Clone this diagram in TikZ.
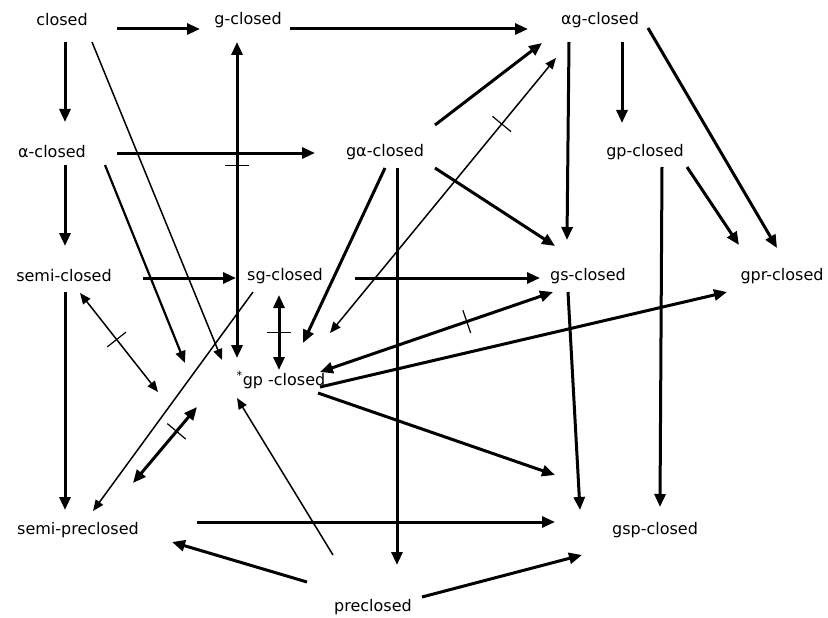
\documentclass[tikz,border=0pt]{standalone}
\usepackage{fontspec}
\setmainfont{DejaVu Sans}
\usetikzlibrary{arrows.meta}
\usetikzlibrary{calc}
\usetikzlibrary{decorations.markings}

\begin{document}
\begin{tikzpicture}[x=1pt,y=-1pt,
	every node/.style={font=\fontsize{16}{18}\selectfont,inner sep=0pt},
	arr/.style={-{Triangle[length=13pt,width=11pt]},line width=3pt},
	darr/.style={{Triangle[length=13pt,width=11pt]}-{Triangle[length=13pt,width=11pt]},line width=3pt},
	midarr/.style={-{Triangle[length=12pt,width=10pt]},line width=2.2pt},
	thinarr/.style={-{Triangle[length=11pt,width=9pt]},line width=1.5pt},
	thindarr/.style={{Triangle[length=11pt,width=9pt]}-{Triangle[length=11pt,width=9pt]},line width=1.5pt},
	indep/.style={postaction={decorate},decoration={markings,
		mark=at position #1 with {\draw[-,line width=1.2pt] (0,-12pt) -- (0,12pt);}}}]
	
	\useasboundingbox (0,0) rectangle (828,618);
	
	\node (closed) at (62,20) {closed};
	\node (gclosed) at (248,20) {g-closed};
	\node (agclosed) at (600,20) {αg-closed};
	\node (aclosed) at (52,152) {α-closed};
	\node (gaclosed) at (385,152) {gα-closed};
	\node (gpclosed) at (645,152) {gp-closed};
	\node (semiclosed) at (64,276) {semi-closed};
	\node (sgclosed) at (285,276) {sg-closed};
	\node (gsclosed) at (588,276) {gs-closed};
	\node (gprclosed) at (782,276) {gpr-closed};
	\node (stargp) at (281,380) {\textsuperscript{*}gp -closed};
	\node (semipre) at (78,530) {semi-preclosed};
	\node (gspclosed) at (655,530) {gsp-closed};
	\node (preclosed) at (373,607) {preclosed};
	
	% top row
	\draw[arr] ($(closed.center)+(55,9)$) -- ($(gclosed.center)+(-48,9)$);
	\draw[arr] ($(gclosed.center)+(42,9)$) -- ($(agclosed.center)+(-72,9)$);
	\draw[arr] ($(closed.center)+(3,22)$) -- ($(aclosed.center)+(13,-30)$);
	\draw[thinarr] ($(closed.center)+(30,22)$) -- ($(stargp.center)+(-59,-20)$);
	\draw[darr,indep=0.39] ($(gclosed.center)+(-11,22)$) -- ($(stargp.center)+(-44,-22)$);
	\draw[arr] ($(agclosed.center)+(22,22)$) -- ($(gpclosed.center)+(-23,-29)$);
	\draw[arr] ($(agclosed.center)+(-31,22)$) -- ($(gsclosed.center)+(-21,-36)$);
	\draw[arr] ($(agclosed.center)+(48,8)$) -- ($(gprclosed.center)+(-5,-28)$);
	
	% second row
	\draw[arr] ($(aclosed.center)+(65,1)$) -- ($(gaclosed.center)+(-70,1)$);
	\draw[arr] ($(aclosed.center)+(13,13)$) -- ($(semiclosed.center)+(1,-30)$);
	\draw[midarr] ($(aclosed.center)+(53,13)$) -- ($(stargp.center)+(-96,-17)$);
	\draw[arr] ($(gaclosed.center)+(50,-27)$) -- ($(agclosed.center)+(-58,23)$);
	\draw[thindarr,indep=0.76] ($(stargp.center)+(49,-47)$) -- ($(agclosed.center)+(-44,38)$);
	\draw[arr] ($(gaclosed.center)+(50,16)$) -- ($(gsclosed.center)+(-33,-30)$);
	\draw[arr] ($(gaclosed.center)+(12,16)$) -- ($(preclosed.center)+(24,-42)$);
	\draw[arr] ($(gaclosed.center)+(0,16)$) -- ($(stargp.center)+(22,-37)$);
	\draw[arr] ($(gpclosed.center)+(42,15)$) -- ($(gprclosed.center)+(-43,-31)$);
	\draw[arr] ($(gpclosed.center)+(17,15)$) -- ($(gspclosed.center)+(5,-23)$);
	
	% third row
	\draw[arr] ($(semiclosed.center)+(79,2)$) -- ($(sgclosed.center)+(-49,2)$);
	\draw[arr] ($(sgclosed.center)+(70,2)$) -- ($(gsclosed.center)+(-48,2)$);
	\draw[arr] ($(semiclosed.center)+(1,16)$) -- ($(semipre.center)+(-13,-20)$);
	\draw[thindarr,indep=0.47] ($(semiclosed.center)+(16,17)$) -- ($(stargp.center)+(-123,12)$);
	\draw[thinarr] ($(sgclosed.center)+(-32,16)$) -- ($(semipre.center)+(15,-19)$);
	\draw[darr,indep=0.5] ($(sgclosed.center)+(-6,19)$) -- ($(stargp.center)+(-2,-10)$);
	\draw[darr,indep=0.63] ($(stargp.center)+(39,-8)$) -- ($(gsclosed.center)+(-35,16)$);
	\draw[arr] ($(stargp.center)+(39,7)$) -- ($(gprclosed.center)+(-55,16)$);
	\draw[arr] ($(stargp.center)+(37,13)$) -- ($(gspclosed.center)+(-100,-55)$);
	\draw[arr] ($(gsclosed.center)+(-20,16)$) -- ($(gspclosed.center)+(-75,-20)$);
	
	% bottom
	\draw[darr,indep=0.68] ($(semipre.center)+(55,-47)$) -- ($(stargp.center)+(-84,27)$);
	\draw[arr] ($(semipre.center)+(119,-8)$) -- ($(gspclosed.center)+(-100,-8)$);
	\draw[arr] ($(preclosed.center)+(-66,-25)$) -- ($(semipre.center)+(94,12)$);
	\draw[arr] ($(preclosed.center)+(49,-10)$) -- ($(gspclosed.center)+(-73,25)$);
	\draw[thinarr] ($(preclosed.center)+(-40,-52)$) -- ($(stargp.center)+(-44,18)$);
\end{tikzpicture}
\end{document}
